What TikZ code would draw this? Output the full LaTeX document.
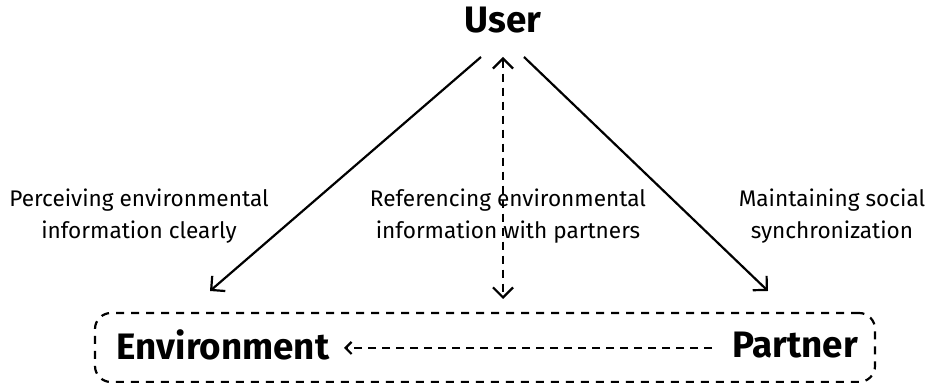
\documentclass[tikz,border=0pt]{standalone}
\usepackage{fontspec}
\setmainfont{Fira Sans}
\usetikzlibrary{arrows.meta}

\begin{document}
\begin{tikzpicture}[x=0.5pt, y=-0.5pt,
  actor/.style={font=\fontsize{18.4}{22}\selectfont\bfseries, inner sep=0pt},
  note/.style={font=\fontsize{11.3}{15.8}\selectfont, align=center, inner sep=0pt},
  link/.style={-{Straight Barb[length=5pt,width=10pt]}, line width=1.1pt},
  dlink/.style={link, dash pattern=on 4pt off 3pt}]
  \useasboundingbox (0,0) rectangle (926,383);
  % the three parties
  \node[actor] (user) at (503,20) {User};
  \node[actor] (env) at (223,345) {Environment};
  \node[actor] (partner) at (795,345) {Partner};
  \node[draw, line width=1.1pt, dash pattern=on 4pt off 3.5pt, rounded corners=8pt,
        minimum width=390pt, minimum height=34.5pt] (ground) at (485,347.5) {};
  % arrow ends
  \coordinate (userL) at (481,57);
  \coordinate (userR) at (524,57);
  \coordinate (userM) at (503,57);
  \coordinate (envT) at (210,291);
  \coordinate (partT) at (768,291);
  \coordinate (groundT) at (503,299);
  \coordinate (envR) at (344,348);
  \coordinate (partL) at (712,348);
  \draw[link] (userL) -- (envT);
  \draw[link] (userR) -- (partT);
  \draw[dlink, {Straight Barb[length=5pt,width=10pt]}-{Straight Barb[length=5pt,width=10pt]}] (userM) -- (groundT);
  \draw[dlink, -{Straight Barb[length=3pt,width=6pt]}] (partL) -- (envR);
  % labels
  \node[note] (perceive) at (139,216) {Perceiving environmental\\information clearly};
  \node[note] (reference) at (508,216) {Referencing environmental\\information with partners};
  \node[note] (maintain) at (832,216) {Maintaining social\\synchronization};
\end{tikzpicture}
\end{document}
